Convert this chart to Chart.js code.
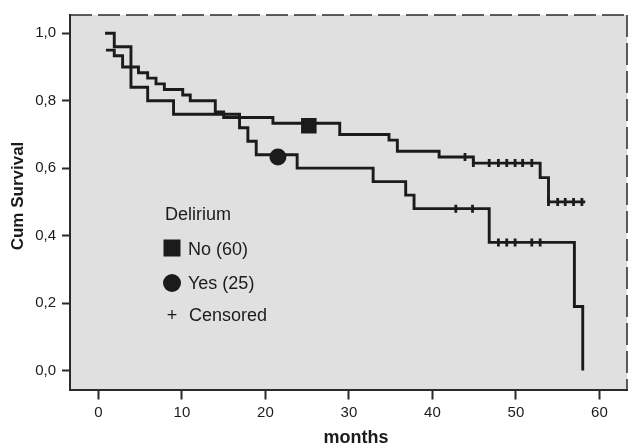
<!DOCTYPE html>
<html>
<head>
<meta charset="utf-8">
<script src="https://cdn.jsdelivr.net/npm/chart.js@4/dist/chart.umd.min.js"></script>
<style>
  html, body { margin: 0; padding: 0; background: #fff; }
  #wrap { width: 638px; height: 446px; position: relative; }
</style>
</head>
<body>
<div id="wrap"><canvas id="c"></canvas></div>
<script>
// Kaplan-Meier curves (months, cumulative survival after each step)
const noTimes = [0.9, 1.9, 2.9, 4.8, 5.9, 6.9, 7.9, 10.1, 11.0, 14.0, 15.0, 20.9, 28.9, 34.8, 35.8, 40.8, 44.9, 52.9, 53.9, 58.3];
const noSurv  = [0.95, 0.933, 0.90, 0.883, 0.867, 0.85, 0.833, 0.817, 0.80, 0.767, 0.75, 0.733, 0.70, 0.683, 0.65, 0.633, 0.615, 0.572, 0.50, 0.50];
const yesTimes = [0.8, 1.9, 3.9, 5.9, 9.0, 16.9, 17.9, 18.9, 23.8, 32.9, 36.8, 37.8, 46.8, 57.0, 58.0];
const yesSurv  = [1.0, 0.96, 0.84, 0.80, 0.76, 0.72, 0.68, 0.64, 0.60, 0.56, 0.52, 0.48, 0.38, 0.19, 0.0];

// censored observations
const noCensorTimes = [43.9, 44.9, 46.8, 47.9, 48.9, 49.9, 50.8, 51.9, 53.9, 55.0, 55.9, 56.9, 57.9];
const noCensorSurv  = [0.633, 0.615, 0.615, 0.615, 0.615, 0.615, 0.615, 0.615, 0.50, 0.50, 0.50, 0.50, 0.50];
const yesCensorTimes = [42.8, 44.8, 47.9, 48.9, 49.9, 51.9, 52.9];
const yesCensorSurv  = [0.48, 0.48, 0.38, 0.38, 0.38, 0.38, 0.38];

// series markers placed on the curves
const noMarker = [25.2, 0.726];
const yesMarker = [21.5, 0.633];

const legendTitle = 'Delirium';
const legendLabels = ['No (60)', 'Yes (25)', 'Censored'];

const xTicks = [0, 10, 20, 30, 40, 50, 60];
const yTicks = [0.0, 0.2, 0.4, 0.6, 0.8, 1.0];

const ink = '#1b1b1b';
const axisInk = '#2a2a2a';
const font = '"Liberation Sans", Arial, sans-serif';

const toPts = (xs, ys) => xs.map((x, i) => ({ x: x, y: ys[i] }));

// grey plot background
const backgroundPlugin = {
    id: 'plotBg',
    beforeDraw: (chart) => {
        const { ctx, chartArea } = chart;
        ctx.save();
        ctx.fillStyle = '#e0e0e0';
        ctx.fillRect(chartArea.left, chartArea.top, chartArea.right - chartArea.left, chartArea.bottom - chartArea.top);
        ctx.restore();
    }
};

// dashed top/right frame, axis titles and the legend
const decorPlugin = {
    id: 'decor',
    afterDraw: (chart) => {
        const { ctx, chartArea } = chart;
        ctx.save();
        ctx.strokeStyle = axisInk;
        ctx.lineWidth = 1.5;
        ctx.setLineDash([22, 6]);
        ctx.beginPath();
        ctx.moveTo(chartArea.left, chartArea.top);
        ctx.lineTo(chartArea.right, chartArea.top);
        ctx.moveTo(chartArea.right, chartArea.top);
        ctx.lineTo(chartArea.right, chartArea.bottom);
        ctx.stroke();
        ctx.setLineDash([]);

        // axis titles
        ctx.fillStyle = ink;
        ctx.font = 'bold 18px ' + font;
        ctx.textAlign = 'center';
        ctx.textBaseline = 'alphabetic';
        ctx.fillText('months', 356, 443);
        ctx.save();
        ctx.translate(23, 196);
        ctx.rotate(-Math.PI / 2);
        ctx.font = 'bold 17px ' + font;
        ctx.fillText('Cum Survival', 0, 0);
        ctx.restore();

        // legend
        ctx.font = '18px ' + font;
        ctx.textAlign = 'left';
        ctx.fillText(legendTitle, 165, 220);
        ctx.fillRect(163.5, 239.5, 17, 17);
        ctx.fillText(legendLabels[0], 188, 255);
        ctx.beginPath();
        ctx.arc(172, 283, 9, 0, Math.PI * 2);
        ctx.fill();
        ctx.fillText(legendLabels[1], 188, 289);
        ctx.textAlign = 'center';
        ctx.fillText('+', 172, 321);
        ctx.textAlign = 'left';
        ctx.fillText(legendLabels[2], 189, 321);
        ctx.restore();
    }
};

const censorStyle = {
    type: 'line',
    showLine: false,
    pointStyle: 'line',
    rotation: 90,
    pointRadius: 4,
    pointHoverRadius: 4,
    borderColor: ink,
    pointBorderWidth: 2.8,
    backgroundColor: ink
};

new Chart(document.getElementById('c'), {
    type: 'line',
    data: {
        datasets: [
            Object.assign({ label: 'No censored', data: toPts(noCensorTimes, noCensorSurv) }, censorStyle),
            Object.assign({ label: 'Yes censored', data: toPts(yesCensorTimes, yesCensorSurv) }, censorStyle),
            {
                label: 'No (60)',
                data: toPts(noTimes, noSurv),
                stepped: 'before',
                borderColor: ink,
                borderWidth: 2.9,
                pointRadius: 0,
                fill: false
            },
            {
                label: 'Yes (25)',
                data: toPts(yesTimes, yesSurv),
                stepped: 'before',
                borderColor: ink,
                borderWidth: 2.9,
                pointRadius: 0,
                fill: false
            },
            {
                label: 'No marker',
                data: [{ x: noMarker[0], y: noMarker[1] }],
                showLine: false,
                pointStyle: 'rect',
                pointRadius: 11,
                pointBorderWidth: 0,
                backgroundColor: ink,
                borderColor: ink
            },
            {
                label: 'Yes marker',
                data: [{ x: yesMarker[0], y: yesMarker[1] }],
                showLine: false,
                pointStyle: 'circle',
                pointRadius: 8.5,
                pointBorderWidth: 0,
                backgroundColor: ink,
                borderColor: ink
            }
        ]
    },
    options: {
        responsive: true,
        maintainAspectRatio: false,
        animation: false,
        layout: { padding: { top: 11, right: 1.5, left: 0, bottom: 0 } },
        scales: {
            x: {
                type: 'linear',
                min: -3.4,
                max: 63.3,
                afterFit: (s) => { s.height = 56.5; },
                afterBuildTicks: (s) => { s.ticks = xTicks.map(v => ({ value: v })); },
                ticks: {
                    color: ink,
                    padding: 4,
                    font: { family: font, size: 15 },
                    callback: (v) => String(v)
                },
                grid: {
                    drawOnChartArea: false,
                    drawTicks: true,
                    tickLength: 10,
                    tickColor: axisInk,
                    tickWidth: 2
                },
                border: { display: true, color: axisInk, width: 2 }
            },
            y: {
                min: -0.056,
                max: 1.054,
                afterFit: (s) => { s.width = 70; },
                afterBuildTicks: (s) => { s.ticks = yTicks.map(v => ({ value: v })); },
                ticks: {
                    color: ink,
                    padding: 6,
                    font: { family: font, size: 15 },
                    callback: (v) => v.toFixed(1).replace('.', ',')
                },
                grid: {
                    drawOnChartArea: false,
                    drawTicks: true,
                    tickLength: 8,
                    tickColor: axisInk,
                    tickWidth: 2
                },
                border: { display: true, color: axisInk, width: 2 }
            }
        },
        plugins: {
            legend: { display: false },
            tooltip: { enabled: false }
        }
    },
    plugins: [backgroundPlugin, decorPlugin]
});
</script>
</body>
</html>
